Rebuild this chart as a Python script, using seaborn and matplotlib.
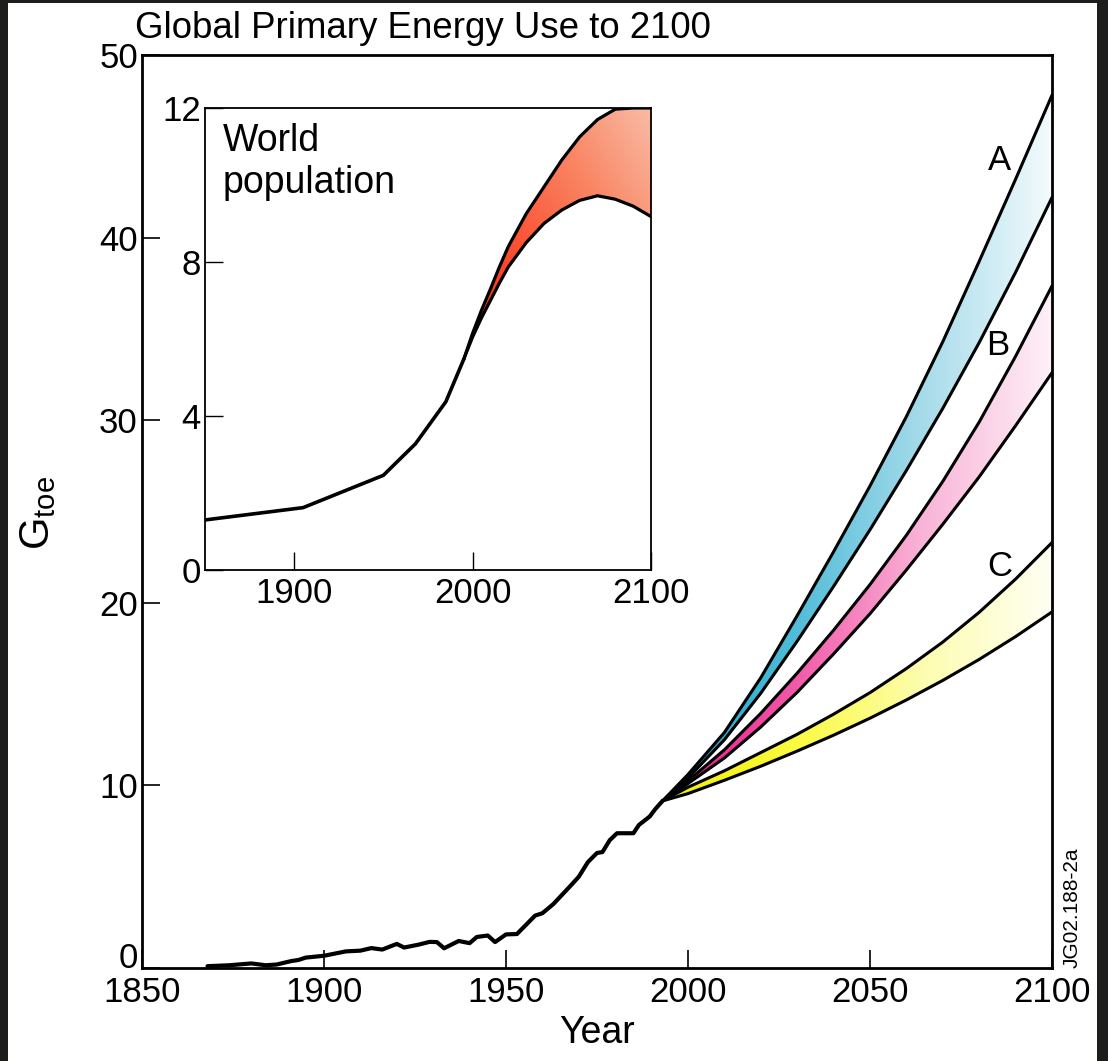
import numpy as np
import matplotlib
matplotlib.use("Agg")
import matplotlib.pyplot as plt
import seaborn as sns
from matplotlib.colors import LinearSegmentedColormap
from matplotlib.patches import Rectangle

# Historical primary energy use (Gtoe)
hist_years = [1868, 1874, 1880, 1884, 1887, 1891, 1893, 1895, 1900, 1906,
              1910, 1913, 1916, 1920, 1922, 1926, 1929, 1931, 1933, 1937,
              1940, 1942, 1945, 1947, 1950, 1953, 1958, 1960, 1963, 1968,
              1970, 1972.5, 1975, 1976.5, 1978.5, 1980.5, 1985, 1986.5, 1989.5, 1991, 1993]
hist_energy = [0.10, 0.15, 0.25, 0.15, 0.19, 0.38, 0.44, 0.57, 0.67, 0.91,
               0.95, 1.09, 1.01, 1.32, 1.12, 1.28, 1.43, 1.42, 1.08, 1.48,
               1.36, 1.70, 1.78, 1.42, 1.84, 1.86, 2.87, 3.00, 3.50, 4.56,
               5.00, 5.80, 6.30, 6.35, 7.00, 7.38, 7.38, 7.83, 8.30, 8.70, 9.15]

# Scenario projections (Gtoe)
proj_years = [1993, 2000, 2010, 2020, 2030, 2040, 2050, 2060, 2070, 2080, 2090, 2100]
a_high = [9.15, 10.6, 12.9, 15.9, 19.3, 22.8, 26.4, 30.2, 34.3, 38.7, 43.2, 47.8]
a_low = [9.15, 10.4, 12.5, 15.05, 17.9, 20.9, 24.0, 27.25, 30.65, 34.25, 38.1, 42.2]
b_high = [9.15, 10.25, 11.95, 13.95, 16.15, 18.5, 21.0, 23.7, 26.65, 29.9, 33.5, 37.35]
b_low = [9.15, 10.1, 11.5, 13.2, 15.1, 17.2, 19.4, 21.8, 24.3, 26.9, 29.7, 32.6]
c_high = [9.15, 9.9, 10.8, 11.8, 12.8, 13.9, 15.08, 16.4, 17.85, 19.48, 21.3, 23.3]
c_low = [9.15, 9.55, 10.28, 11.05, 11.88, 12.75, 13.68, 14.68, 15.75, 16.9, 18.15, 19.5]

# World population (billions)
pop_years = [1850, 1905, 1950, 1968, 1985, 1995]
pop_values = [1.30, 1.62, 2.46, 3.28, 4.37, 5.47]
pop_proj_years = [1995, 2000, 2005, 2010, 2015, 2020, 2030, 2040, 2050, 2060, 2070, 2080, 2090, 2100]
pop_high = [5.47, 6.15, 6.75, 7.3, 7.87, 8.4, 9.25, 9.95, 10.65, 11.25, 11.7, 11.97, 12.0, 12.0]
pop_low = [5.47, 6.05, 6.55, 7.0, 7.45, 7.87, 8.5, 9.0, 9.35, 9.6, 9.72, 9.63, 9.45, 9.18]

sns.set_style("ticks")
plt.rcParams["font.family"] = ["Liberation Sans", "DejaVu Sans"]
plt.rcParams["mathtext.fontset"] = "custom"
plt.rcParams["mathtext.rm"] = "Liberation Sans"
plt.rcParams["mathtext.it"] = "Liberation Sans"
plt.rcParams["text.color"] = "black"
plt.rcParams["axes.labelcolor"] = "black"
plt.rcParams["xtick.color"] = "black"
plt.rcParams["ytick.color"] = "black"
plt.rcParams["axes.edgecolor"] = "black"


def gradient_band(ax, x, lo, hi, colors, diagonal=False):
    x = np.asarray(x, float)
    lo = np.asarray(lo, float)
    hi = np.asarray(hi, float)
    poly = ax.fill_between(x, lo, hi, facecolor="none", edgecolor="none")
    cmap = LinearSegmentedColormap.from_list("band", colors)
    if diagonal:
        gx = np.linspace(0, 1, 200)
        gy = np.linspace(0, 1, 200)
        grad = 0.55 * gx[None, :] + 0.45 * gy[:, None]
    else:
        grad = np.linspace(0, 1, 256).reshape(1, -1)
    im = ax.imshow(grad, cmap=cmap, aspect="auto", origin="lower",
                   extent=[x.min(), x.max(), lo.min(), hi.max()], zorder=1)
    im.set_clip_path(poly.get_paths()[0], transform=ax.transData)


fig = plt.figure(figsize=(11.08, 10.61), dpi=100)
fig.patch.set_facecolor("#1d1d1b")
fig.add_artist(Rectangle((8 / 1108, 0), 1089 / 1108, 1 - 3 / 1061,
                         transform=fig.transFigure, facecolor="white",
                         edgecolor="none", zorder=0))

# Main chart
ax = fig.add_axes([142 / 1108, 1 - 968 / 1061, 910 / 1108, 913 / 1061])
ax.set_facecolor("white")

gradient_band(ax, proj_years, a_low, a_high, ["#16a0c8", "#4fbcd8", "#a6dbea", "#f4fbfd"])
gradient_band(ax, proj_years, b_low, b_high, ["#e8128a", "#f258a8", "#f9b4d7", "#fdf1f8"])
gradient_band(ax, proj_years, c_low, c_high, ["#f0ee00", "#fafa40", "#fdfdb0", "#fffff4"])

for series in [a_high, a_low, b_high, b_low, c_high, c_low]:
    sns.lineplot(x=proj_years, y=series, ax=ax, color="black", linewidth=2.2, zorder=3)
sns.lineplot(x=hist_years, y=hist_energy, ax=ax, color="black", linewidth=3.0, zorder=3)

ax.set_xlim(1850, 2100)
ax.set_ylim(0, 50)
ax.set_xticks([1850, 1900, 1950, 2000, 2050, 2100])
ax.set_yticks([0, 10, 20, 30, 40, 50])
ax.set_yticklabels(["", "10", "20", "30", "40", "50"])
ax.tick_params(direction="in", length=13, width=1.2, labelsize=25,
               top=False, right=False)
ax.tick_params(axis="x", pad=6)
ax.tick_params(axis="y", pad=3)
ax.annotate("0", xy=(0, 0), xycoords="axes fraction", xytext=(-3, 7),
            textcoords="offset points", ha="right", va="center", fontsize=25)
for side in ["left", "bottom", "top", "right"]:
    ax.spines[side].set_linewidth(2.0)
ax.set_xlabel("Year", fontsize=27, labelpad=4)
ax.set_ylabel("")

ax.text(2085.7, 44.2, "A", fontsize=25, ha="center", va="center", zorder=4)
ax.text(2085.0, 34.1, "B", fontsize=25, ha="center", va="center", zorder=4)
ax.text(2085.7, 22.0, "C", fontsize=25, ha="center", va="center", zorder=4)

fig.text(38 / 1108, 1 - 513 / 1061, r"G$_{\mathrm{toe}}$", fontsize=30,
         rotation=90, ha="center", va="center")
fig.text(135 / 1108, 1 - 28 / 1061, "Global Primary Energy Use to 2100",
         fontsize=26.4, ha="left", va="center")
fig.text(1072 / 1108, 1 - 968 / 1061, "JG02.188-2a", fontsize=15,
         rotation=90, ha="center", va="bottom")

# Inset: world population
ins = fig.add_axes([205 / 1108, 1 - 570 / 1061, 446 / 1108, 462 / 1061])
ins.set_facecolor("white")
gradient_band(ins, pop_proj_years, pop_low, pop_high,
              ["#ff1e0a", "#fb4e30", "#f98462", "#f9bca6"], diagonal=True)
sns.lineplot(x=pop_proj_years, y=pop_high, ax=ins, color="black", linewidth=2.3, zorder=3)
sns.lineplot(x=pop_proj_years, y=pop_low, ax=ins, color="black", linewidth=2.3, zorder=3)
sns.lineplot(x=pop_years, y=pop_values, ax=ins, color="black", linewidth=2.6, zorder=3)
ins.set_xlim(1850, 2100)
ins.set_ylim(0, 12)
ins.set_xticks([1900, 2000, 2100])
ins.set_yticks([0, 4, 8, 12])
ins.tick_params(direction="in", length=13, width=1.0, labelsize=25,
                top=False, right=False)
ins.tick_params(axis="x", pad=5)
ins.tick_params(axis="y", pad=3)
for side in ["left", "bottom", "top", "right"]:
    ins.spines[side].set_linewidth(1.3)
ins.set_xlabel("")
ins.set_ylabel("")
ins.text(1860, 11.6, "World\npopulation", fontsize=27, ha="left", va="top",
         linespacing=1.2)

fig.savefig("out.png", dpi=100, facecolor=fig.get_facecolor())
